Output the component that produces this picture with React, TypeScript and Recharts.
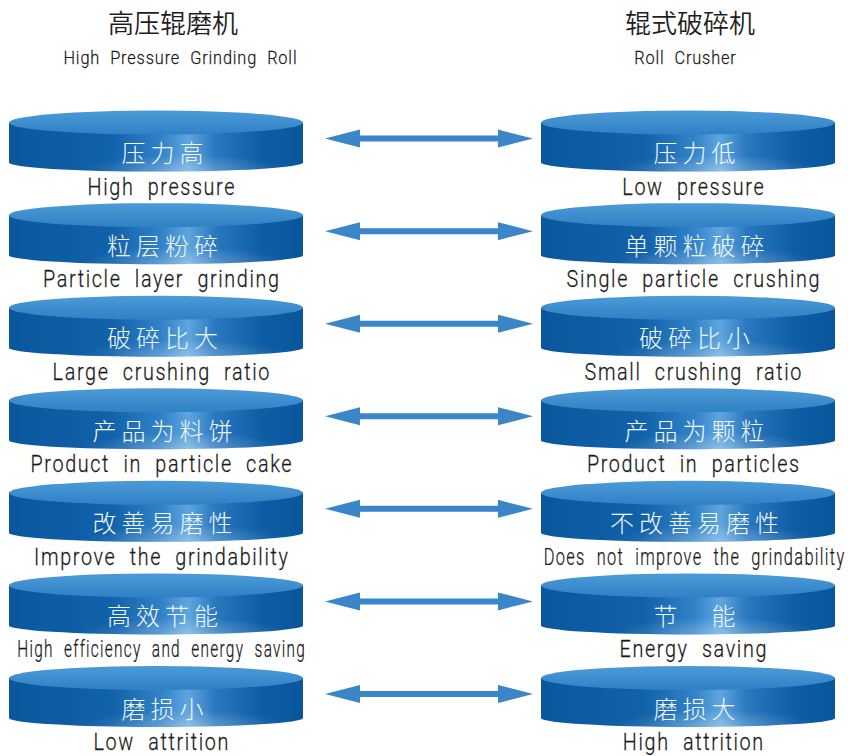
import { Scatter, ScatterChart, XAxis, YAxis } from "recharts";

// comparison rows: high pressure grinding roll (left) vs roll crusher (right)
const hpgrZh = ["压力高", "粒层粉碎", "破碎比大", "产品为料饼", "改善易磨性", "高效节能", "磨损小"];
const hpgrEn = [
  "High pressure",
  "Particle layer grinding",
  "Large crushing ratio",
  "Product in particle cake",
  "Improve the grindability",
  "High efficiency and energy saving",
  "Low attrition",
];
const crusherZh = ["压力低", "单颗粒破碎", "破碎比小", "产品为颗粒", "不改善易磨性", "节\u3000能", "磨损大"];
const crusherEn = [
  "Low pressure",
  "Single particle crushing",
  "Small crushing ratio",
  "Product in particles",
  "Does not improve the grindability",
  "Energy saving",
  "High attrition",
];
const headerZh = ["高压辊磨机", "辊式破碎机"];
const headerEn = ["High Pressure Grinding Roll", "Roll Crusher"];

const leftRows = hpgrZh.map((zh, i) => ({ side: 0, row: i, zh, en: hpgrEn[i] }));
const rightRows = crusherZh.map((zh, i) => ({ side: 1, row: i, zh, en: crusherEn[i] }));
const arrowRows = hpgrZh.map((_, i) => ({ side: 0.5, row: i }));
const headers = headerZh.map((zh, i) => ({ side: i, row: -1, zh, en: headerEn[i] }));

const RX = 147;
const RY = 12;
const H = 40;
const RB = 9;
const EN_FONT = "Roboto, 'Noto Sans', sans-serif";
const ZH_FONT = "'Noto Sans CJK SC', sans-serif";
const EN_SIZE = 23;
const EN_LS = 1.9;
const EN_WS = 8;
const EN_WEIGHT = 300;
const CONDENSE = 0.86;

let measureCtx: CanvasRenderingContext2D | null = null;
function textWidth(s: string, size: number, ls: number, ws: number) {
  if (!measureCtx) measureCtx = document.createElement("canvas").getContext("2d");
  if (!measureCtx) return s.length * size * 0.5;
  measureCtx.font = `${EN_WEIGHT} ${size}px Roboto`;
  const spaces = s.split(" ").length - 1;
  return measureCtx.measureText(s).width + ls * s.length + ws * spaces;
}

// narrow english text, like the condensed face of the original
function EnText(props: any) {
  const { x, y, size, ls, ws, maxW, children } = props;
  const w = textWidth(children, size, ls, ws) * CONDENSE;
  const sx = maxW && w > maxW ? (CONDENSE * maxW) / w : CONDENSE;
  return (
    <g transform={`translate(${x},${y}) scale(${sx},1)`}>
      <text
        x={ls / 2}
        y={0}
        textAnchor="middle"
        dominantBaseline="central"
        fontFamily={EN_FONT}
        fontSize={size}
        fontWeight={EN_WEIGHT}
        letterSpacing={ls}
        wordSpacing={ws}
        fill="#1a1a1a"
        stroke="#1a1a1a"
        strokeWidth={0.25}
      >
        {children}
      </text>
    </g>
  );
}

function Disk(props: any) {
  const { cx, cy, payload } = props;
  const id = `disk-${payload.side}-${payload.row}`;
  const ey = cy + RY;
  const by = ey + H;
  const body = `M${cx - RX},${ey} L${cx - RX},${by} A${RX},${RB} 0 0 0 ${cx + RX},${by} L${cx + RX},${ey} Z`;
  const maxW = payload.side === 0 ? 2 * RX - 6 : 2 * RX + 8;
  return (
    <g>
      <defs>
        <linearGradient id={`${id}-body`} x1="0" y1="0" x2="1" y2="0">
          <stop offset="0%" stopColor="#0a579d" />
          <stop offset="35%" stopColor="#1262aa" />
          <stop offset="52%" stopColor="#3282c8" />
          <stop offset="61%" stopColor="#5fa6de" />
          <stop offset="70%" stopColor="#2a78bf" />
          <stop offset="86%" stopColor="#0e5da5" />
          <stop offset="100%" stopColor="#09569c" />
        </linearGradient>
        <radialGradient id={`${id}-glow`} cx="0.6" cy="1" r="0.35">
          <stop offset="0%" stopColor="#ffffff" stopOpacity={0.3} />
          <stop offset="100%" stopColor="#ffffff" stopOpacity={0} />
        </radialGradient>
        <linearGradient id={`${id}-top`} x1="0" y1="0" x2="0" y2="1">
          <stop offset="0%" stopColor="#4c9bd8" />
          <stop offset="100%" stopColor="#3080c5" />
        </linearGradient>
      </defs>
      <path d={body} fill={`url(#${id}-body)`} />
      <path d={body} fill={`url(#${id}-glow)`} />
      <ellipse cx={cx} cy={ey} rx={RX} ry={RY} fill={`url(#${id}-top)`} />
      <text
        x={cx + 9}
        y={cy + 41}
        textAnchor="middle"
        dominantBaseline="central"
        fontFamily={ZH_FONT}
        fontSize={24}
        fontWeight={300}
        letterSpacing={5}
        fill="#f2f7fc"
      >
        {payload.zh}
      </text>
      <EnText
        x={cx + 5 + (payload.side === 1 && payload.en.length >= 30 ? 1 : 0)}
        y={cy + 76}
        size={EN_SIZE}
        ls={EN_LS}
        ws={EN_WS}
        maxW={maxW}
      >
        {payload.en}
      </EnText>
    </g>
  );
}

function Arrow(props: any) {
  const { cx, cy } = props;
  const y = cy + 28;
  const x1 = cx - 97;
  const x2 = cx + 111;
  const head = 35;
  const hh = 9;
  const sh = 3;
  const d = [
    `M${x1},${y}`,
    `L${x1 + head},${y - hh}`,
    `L${x1 + head},${y - sh}`,
    `L${x2 - head},${y - sh}`,
    `L${x2 - head},${y - hh}`,
    `L${x2},${y}`,
    `L${x2 - head},${y + hh}`,
    `L${x2 - head},${y + sh}`,
    `L${x1 + head},${y + sh}`,
    `L${x1 + head},${y + hh}`,
    "Z",
  ].join(" ");
  return <path d={d} fill="#3a86c8" />;
}

function Header(props: any) {
  const { cx, cy, payload } = props;
  const dx = payload.side === 0 ? 17 : 2;
  return (
    <g>
      <text
        x={cx + dx}
        y={cy + 3}
        textAnchor="middle"
        dominantBaseline="central"
        fontFamily={ZH_FONT}
        fontSize={26}
        fontWeight={350}
        fill="#1e1e1e"
      >
        {payload.zh}
      </text>
      <EnText
        x={cx + dx + (payload.side === 0 ? 7 : -5)}
        y={cy + 40}
        size={19}
        ls={1}
        ws={6}
      >
        {payload.en}
      </EnText>
    </g>
  );
}

export default function App() {
  return (
    <div style={{ width: 848, height: 756, background: "#fff" }}>
      <style>{`body{margin:0}`}</style>
      <ScatterChart width={848} height={756} margin={{ top: 18, right: 160, bottom: 90, left: 156 }}>
        <XAxis type="number" dataKey="side" domain={[0, 1]} hide />
        <YAxis type="number" dataKey="row" domain={[-1, 6]} reversed hide />
        <Scatter data={headers} shape={<Header />} isAnimationActive={false} />
        <Scatter data={arrowRows} shape={<Arrow />} isAnimationActive={false} />
        <Scatter data={leftRows} shape={<Disk />} isAnimationActive={false} />
        <Scatter data={rightRows} shape={<Disk />} isAnimationActive={false} />
      </ScatterChart>
    </div>
  );
}
